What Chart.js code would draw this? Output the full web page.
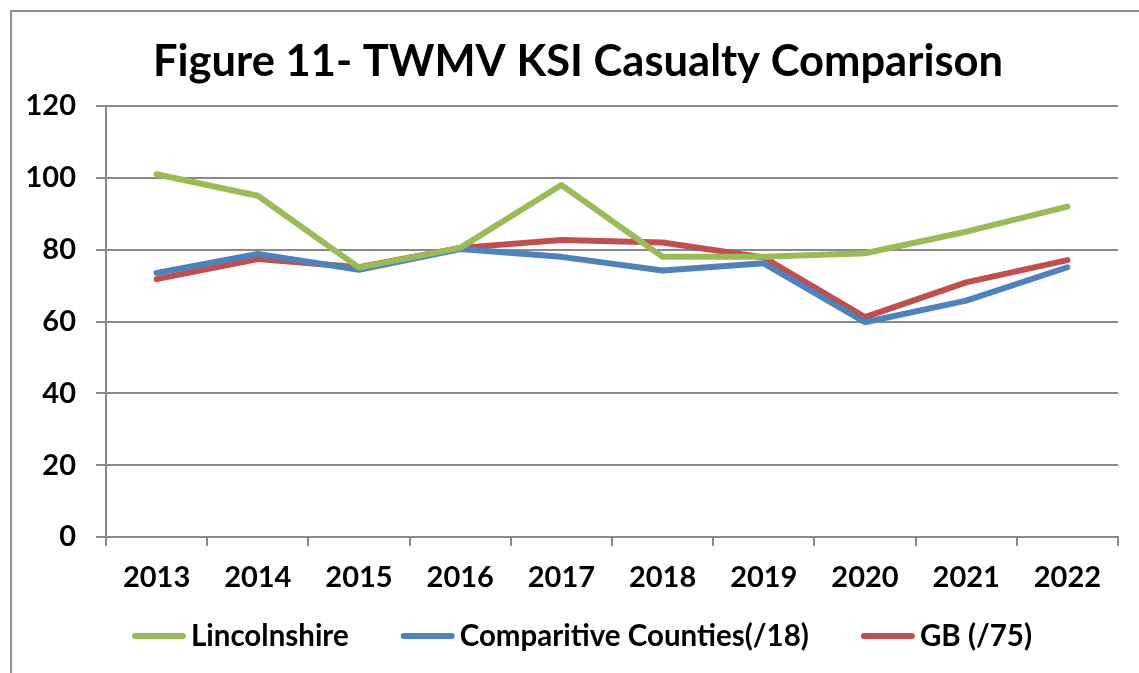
<!DOCTYPE html>
<html>
<head>
<meta charset="utf-8">
<script src="https://cdn.jsdelivr.net/npm/chart.js@4"></script>
<style>
  html, body { margin: 0; padding: 0; background: #fff; overflow: hidden; }
  #frame { position: absolute; left: 10px; top: 10px; width: 1200px; height: 720px; border: 2px solid #8e8e8e; box-sizing: border-box; }
  #wrap { position: absolute; left: 0; top: 0; width: 1139px; height: 673px; }
</style>
</head>
<body>
<div id="frame"></div>
<div id="wrap"><canvas id="grafico"></canvas></div>
<script>
const years = ["2013", "2014", "2015", "2016", "2017", "2018", "2019", "2020", "2021", "2022"];
const lincolnshire = [101, 95, 75, 80.5, 98, 78, 78, 79, 85, 92];
const comparitiveCounties = [73.5, 78.8, 74.4, 80.2, 78, 74.2, 76.2, 59.8, 65.8, 75.1];
const gb = [71.8, 77.4, 75.1, 80.5, 82.7, 82, 77.8, 61.2, 70.9, 77.1];
const yTicks = [0, 20, 40, 60, 80, 100, 120];
const titulo = "Figure 11- TWMV KSI Casualty Comparison";

const fuente = "Lato, 'Open Sans', sans-serif";
const gris = "#898989";

// titulo y leyenda propios, colocados como en el grafico de Excel
const rotulos = {
  id: "rotulos",
  afterDraw(chart) {
    const c = chart.ctx;
    c.save();
    c.fillStyle = "#000";
    c.textBaseline = "middle";

    c.font = "bold 43.5px " + fuente;
    c.textAlign = "center";
    c.fillText(titulo, 578, 62);

    c.font = "bold 29.5px " + fuente;
    c.textAlign = "left";
    const linea = 54, hueco = 5, separacion = 52;
    const items = chart.data.datasets.map(ds => ({ ds, w: linea + hueco + c.measureText(ds.label).width }));
    const total = items.reduce((s, it) => s + it.w, 0) + separacion * (items.length - 1);
    let x = 582 - total / 2;
    const y = 636;
    items.forEach(it => {
      c.strokeStyle = it.ds.borderColor;
      c.lineWidth = 6;
      c.lineCap = "round";
      c.beginPath();
      c.moveTo(x + 3, y);
      c.lineTo(x + linea - 3, y);
      c.stroke();
      c.fillText(it.ds.label, x + linea + hueco, y);
      x += it.w + separacion;
    });
    c.restore();
  }
};

const ctx = document.getElementById("grafico").getContext("2d");

const chart = new Chart(ctx, {
  type: "line",
  data: {
    labels: years,
    datasets: [
      { label: "Lincolnshire", data: lincolnshire, borderColor: "#9BBB59", backgroundColor: "#9BBB59" },
      { label: "Comparitive Counties(/18)", data: comparitiveCounties, borderColor: "#4F81BD", backgroundColor: "#4F81BD" },
      { label: "GB (/75)", data: gb, borderColor: "#C0504D", backgroundColor: "#C0504D" }
    ]
  },
  options: {
    responsive: true,
    maintainAspectRatio: false,
    animation: false,
    layout: { padding: { left: 0, right: 21, top: 106, bottom: 66 } },
    elements: {
      line: { borderWidth: 6, tension: 0, borderCapStyle: "round", borderJoinStyle: "round" },
      point: { radius: 0, hoverRadius: 0 }
    },
    plugins: {
      title: { display: false },
      legend: { display: false },
      tooltip: { enabled: false }
    },
    scales: {
      x: {
        offset: true,
        grid: { offset: true, drawOnChartArea: false, drawTicks: true, tickLength: 9, color: gris, lineWidth: 2 },
        border: { color: gris, width: 2 },
        ticks: { color: "#000", font: { family: fuente, size: 29, weight: "bold" }, padding: 14, maxRotation: 0 },
        afterFit: (scale) => { scale.height = 70; }
      },
      y: {
        min: 0,
        max: 120,
        afterBuildTicks: (scale) => { scale.ticks = yTicks.map(v => ({ value: v })); },
        grid: { color: gris, lineWidth: 2, tickLength: 10 },
        border: { color: gris, width: 2 },
        ticks: { color: "#000", font: { family: fuente, size: 29, weight: "bold" }, padding: 20 },
        afterFit: (scale) => { scale.width = 106; }
      }
    }
  },
  plugins: [rotulos]
});
</script>
</body>
</html>
